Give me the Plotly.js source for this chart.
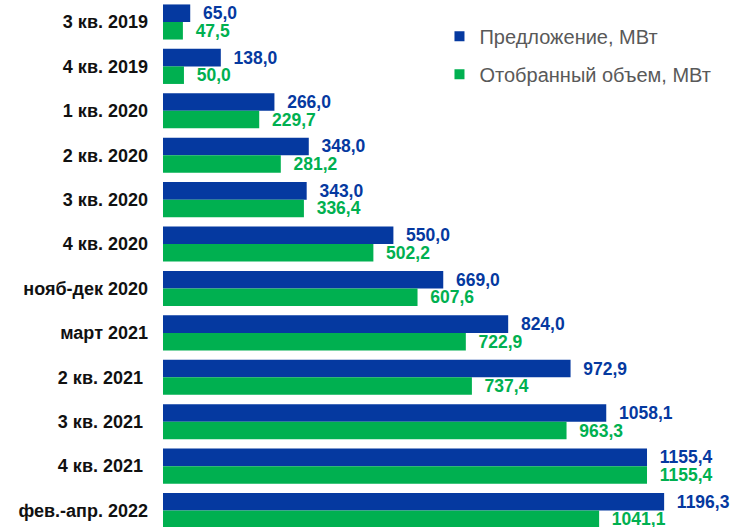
<!DOCTYPE html>
<html>
<head>
<meta charset="utf-8">
<script src="https://cdn.plot.ly/plotly-3.0.1.min.js"></script>
<style>html,body{margin:0;padding:0;background:#fff;}#chart{width:739px;height:527px;}</style>
</head>
<body>
<div id="chart"></div>
<script>
const categories = ["3 кв. 2019","4 кв. 2019","1 кв. 2020","2 кв. 2020","3 кв. 2020","4 кв. 2020","нояб-дек 2020","март 2021","2 кв. 2021\u00a0","3 кв. 2021\u00a0","4 кв. 2021\u00a0","фев.-апр. 2022"];
const offer = [65.0,138.0,266.0,348.0,343.0,550.0,669.0,824.0,972.9,1058.1,1155.4,1196.3];
const selected = [47.5,50.0,229.7,281.2,336.4,502.2,607.6,722.9,737.4,963.3,1155.4,1041.1];
const seriesNames = ["Предложение, МВт","Отобранный объем, МВт"];

const BLUE = "#0539A0", GREEN = "#00B050";
const fmt = v => "\u00a0\u00a0" + v.toFixed(1).replace(".", ",");
const labelFont = c => ({family:"Liberation Sans, Arial, sans-serif", size:17.5, color:c, weight:"bold"});

const traces = [
  {type:"bar", orientation:"h", y:categories, x:offer, name:seriesNames[0], showlegend:false,
   marker:{color:BLUE}, text:offer.map(fmt), textposition:"outside", textfont:labelFont(BLUE),
   cliponaxis:false, constraintext:"none", hoverinfo:"x+y"},
  {type:"bar", orientation:"h", y:categories, x:selected, name:seriesNames[1], showlegend:false,
   marker:{color:GREEN}, text:selected.map(fmt), textposition:"outside", textfont:labelFont(GREEN),
   cliponaxis:false, constraintext:"none", hoverinfo:"x+y"},
  {type:"scatter", mode:"markers", x:[null], y:[null], name:seriesNames[0], legendgroup:"a",
   marker:{symbol:"square", size:10, color:BLUE}},
  {type:"scatter", mode:"markers", x:[null], y:[null], name:seriesNames[1], legendgroup:"b",
   marker:{symbol:"square", size:10, color:GREEN}}
];

const layout = {
  width:739, height:527,
  margin:{l:163, r:0, t:0, b:0, pad:0},
  paper_bgcolor:"#fff", plot_bgcolor:"#fff",
  barmode:"group", bargap:0.21, bargroupgap:0,
  font:{family:"Liberation Sans, Arial, sans-serif"},
  xaxis:{range:[0,1375], showgrid:false, zeroline:false, showticklabels:false, showline:false, ticks:"", fixedrange:true},
  yaxis:{type:"category", range:[11.37,-0.495], autorange:false, showgrid:false, zeroline:false, showline:false, ticks:"",
         ticklabelstandoff:14,
         tickfont:{family:"Liberation Sans, Arial, sans-serif", size:18, color:"#111", weight:"bold"}},
  showlegend:true,
  legend:{x:0.48, y:0.968, xanchor:"left", yanchor:"top", bgcolor:"rgba(0,0,0,0)", tracegroupgap:9,
          font:{family:"Liberation Sans, Arial, sans-serif", size:20, color:"#595959"}}
};

Plotly.newPlot("chart", traces, layout, {displayModeBar:false, staticPlot:true});
</script>
</body>
</html>
